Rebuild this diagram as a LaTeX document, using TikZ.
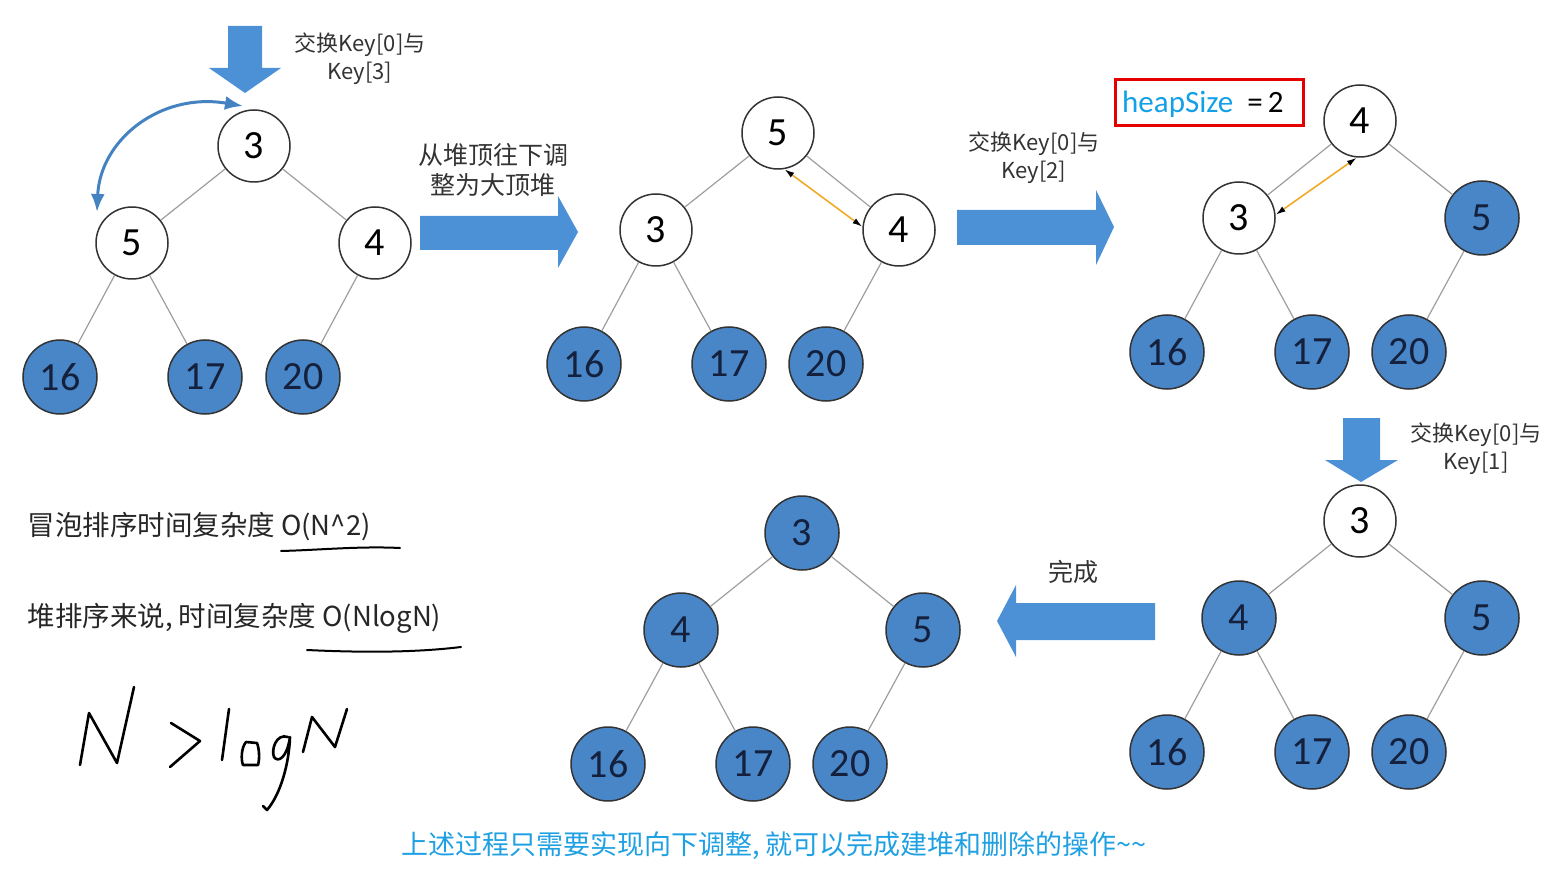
\documentclass[tikz,border=0pt]{standalone}
\usepackage{fontspec}
\setmainfont{Carlito}
\newfontfamily\cjk{Noto Sans CJK SC}
\usetikzlibrary{arrows.meta}
\definecolor{nodeblue}{RGB}{72,134,200}
\definecolor{navy}{RGB}{20,32,60}
\definecolor{arrowblue}{RGB}{76,144,214}
\definecolor{hsblue}{RGB}{20,160,230}
\definecolor{capblue}{RGB}{30,160,226}
\definecolor{swaporange}{RGB}{240,170,40}
\begin{document}
\begin{tikzpicture}[x=1pt,y=-1pt,
  wn/.style={circle,draw=black!80,line width=1.5pt,fill=white,minimum size=72pt,inner sep=0pt,font=\fontsize{40}{40}\selectfont},
  bn/.style={wn,fill=nodeblue,text=navy,minimum size=74pt},
  edge/.style={draw=black!38,line width=1.2pt},
  blk/.style={fill=arrowblue},
  lbl/.style={font=\cjk\fontsize{22}{28}\selectfont,text=black!80,align=center},
  lblb/.style={font=\cjk\fontsize{25}{30}\selectfont,text=black!80,align=center},
  txt/.style={font=\cjk\fontsize{27.5}{30}\selectfont,text=black!85,anchor=west},
  swap/.style={draw=swaporange,line width=1.6pt,{Latex[black,length=10pt,width=6pt]}-{Latex[black,length=10pt,width=6pt]}},
  curvearrow/.style={draw=arrowblue!90!black,line width=3pt,{Latex[length=18pt,width=14pt]}-{Latex[length=18pt,width=14pt]}},
  hand/.style={draw=black,line width=2.6pt,line cap=round,line join=round},
]
\useasboundingbox (0,0) rectangle (1560,882);

% ---------- Tree 1 ----------
\node[wn] (t1r) at (254,146) {3};
\node[wn] (t1a) at (132,243) {5};
\node[wn] (t1b) at (375,243) {4};
\node[bn] (t1c) at (60,377) {16};
\node[bn] (t1d) at (205,377) {17};
\node[bn] (t1e) at (303,377) {20};
\draw[edge] (t1r) -- (t1a); \draw[edge] (t1r) -- (t1b);
\draw[edge] (t1a) -- (t1c); \draw[edge] (t1a) -- (t1d); \draw[edge] (t1b) -- (t1e);

% ---------- Tree 2 ----------
\node[wn] (t2r) at (778,133) {5};
\node[wn] (t2a) at (656,230) {3};
\node[wn] (t2b) at (899,230) {4};
\node[bn] (t2c) at (584,364) {16};
\node[bn] (t2d) at (729,364) {17};
\node[bn] (t2e) at (826,364) {20};
\draw[edge] (t2r) -- (t2a); \draw[edge] (t2r) -- (t2b);
\draw[edge] (t2a) -- (t2c); \draw[edge] (t2a) -- (t2d); \draw[edge] (t2b) -- (t2e);
\draw[swap] (t2r.-80) -- (t2b.175);

% ---------- Tree 3 ----------
\node[wn] (t3r) at (1360,121) {4};
\node[wn] (t3a) at (1239,218) {3};
\node[bn] (t3b) at (1482,218) {5};
\node[bn] (t3c) at (1167,352) {16};
\node[bn] (t3d) at (1312,352) {17};
\node[bn] (t3e) at (1409,352) {20};
\draw[edge] (t3r) -- (t3a); \draw[edge] (t3r) -- (t3b);
\draw[edge] (t3a) -- (t3c); \draw[edge] (t3a) -- (t3d); \draw[edge] (t3b) -- (t3e);
\draw[swap] (t3r.-95) -- (t3a.5);

% ---------- Tree 4 ----------
\node[wn] (t4r) at (1360,521) {3};
\node[bn] (t4a) at (1239,618) {4};
\node[bn] (t4b) at (1482,618) {5};
\node[bn] (t4c) at (1167,752) {16};
\node[bn] (t4d) at (1312,752) {17};
\node[bn] (t4e) at (1409,752) {20};
\draw[edge] (t4r) -- (t4a); \draw[edge] (t4r) -- (t4b);
\draw[edge] (t4a) -- (t4c); \draw[edge] (t4a) -- (t4d); \draw[edge] (t4b) -- (t4e);

% ---------- Tree 5 ----------
\node[bn] (t5r) at (802,533) {3};
\node[bn] (t5a) at (681,630) {4};
\node[bn] (t5b) at (923,630) {5};
\node[bn] (t5c) at (608,764) {16};
\node[bn] (t5d) at (753,764) {17};
\node[bn] (t5e) at (850,764) {20};
\draw[edge] (t5r) -- (t5a); \draw[edge] (t5r) -- (t5b);
\draw[edge] (t5a) -- (t5c); \draw[edge] (t5a) -- (t5d); \draw[edge] (t5b) -- (t5e);

% ---------- block arrows ----------
\fill[blk] (228,26) -- (262,26) -- (262,68) -- (281,68) -- (245,93) -- (209,68) -- (228,68) -- cycle;
\fill[blk] (420,216) -- (558,216) -- (558,196) -- (578,232) -- (558,268) -- (558,250) -- (420,250) -- cycle;
\fill[blk] (957,210) -- (1096,210) -- (1096,190) -- (1114,227) -- (1096,265) -- (1096,245) -- (957,245) -- cycle;
\fill[blk] (1343,418) -- (1380,418) -- (1380,460) -- (1398,460) -- (1361,482) -- (1325,460) -- (1343,460) -- cycle;
\fill[blk] (1155,603) -- (1016,603) -- (1016,585) -- (997,621) -- (1016,657) -- (1016,640) -- (1155,640) -- cycle;

% curved swap arrow
\coordinate (ca) at (243,106);
\coordinate (cb) at (97,212);
\draw[curvearrow] (cb) .. controls (100,140) and (160,92) .. (ca);

% ---------- labels ----------
\node[lbl] (L1) at (360,59) {交换Key[0]与\\Key[3]};
\node[lblb] (L2) at (493,170) {从堆顶往下调\\整为大顶堆};
\node[lbl] (L3) at (1034,158) {交换Key[0]与\\Key[2]};
\node[lbl] (L4) at (1476,449) {交换Key[0]与\\Key[1]};
\node[lblb] (L5) at (1073,572) {完成};
\node[draw=red!90!black,line width=3pt,minimum width=188pt,minimum height=46pt,inner sep=0pt] (hs) at (1209,103) {};
\node[anchor=west,inner sep=0pt,font=\fontsize{31}{31}\selectfont] (hst) at (1122,104) {\textcolor{hsblue}{heapSize}\ \ =\,2};

\node[txt] (T1) at (24,527) {冒泡排序时间复杂度 O(N\^{}2)};
\node[txt] (T2) at (24,618) {堆排序来说, 时间复杂度 O(NlogN)};
\draw[hand,line width=2pt] (281,551) .. controls (320,550) and (360,546) .. (400,548);
\draw[hand,line width=2pt] (307,650) .. controls (370,653) and (420,652) .. (461,647);

% handwriting N > logN
\draw[hand] (80,765) -- (89,713) -- (117,763) -- (134,687);
\draw[hand] (171,723) -- (200,741) -- (170,767);
\draw[hand] (229,709) -- (222,760);
\draw[hand] (246,742) .. controls (241,748) and (241,760) .. (243,765) -- (258,765) .. controls (260,758) and (259,748) .. (257,743) -- cycle;
\draw[hand] (288,737) .. controls (276,733) and (271,750) .. (274,757) .. controls (278,763) and (287,758) .. (290,737)
  .. controls (289,765) and (280,795) .. (267,810) -- (263,806);
\draw[hand] (303,752) -- (312,717) -- (335,747) -- (347,709);

\node[font=\cjk\fontsize{27}{30}\selectfont,text=capblue] (cap) at (774,846) {上述过程只需要实现向下调整, 就可以完成建堆和删除的操作\textasciitilde\textasciitilde};
\end{tikzpicture}
\end{document}
